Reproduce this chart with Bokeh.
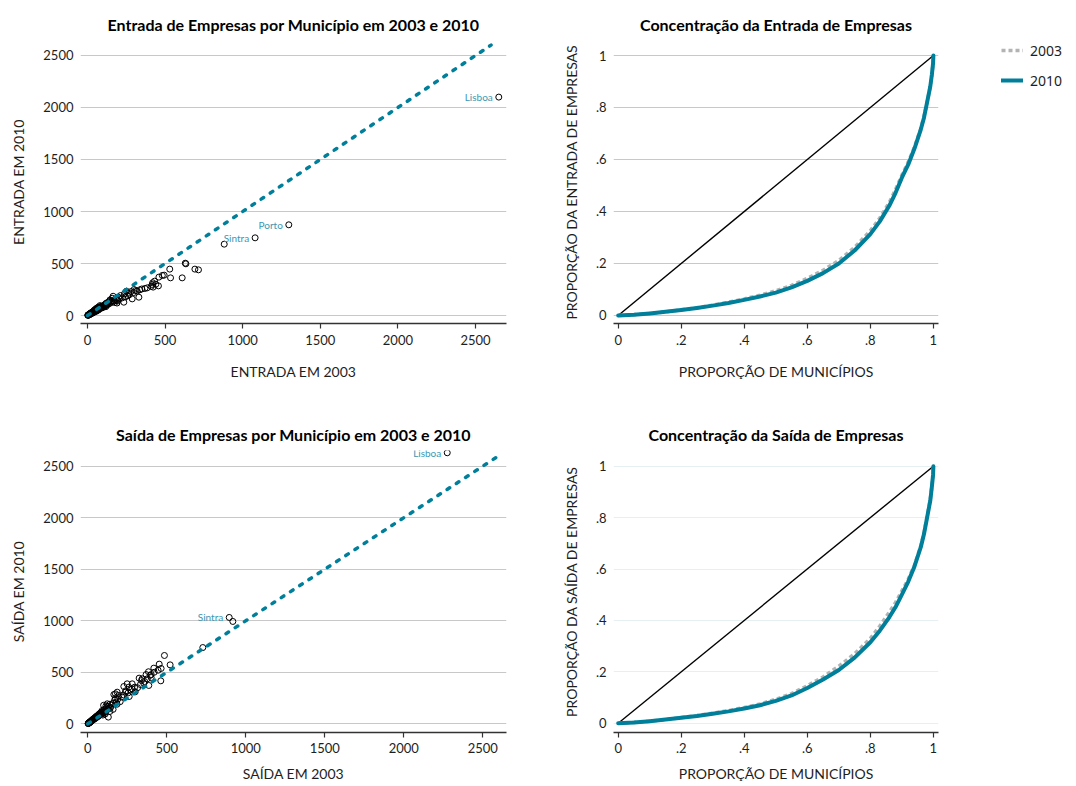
from bokeh.plotting import figure
from bokeh.layouts import row, column
from bokeh.models import ColumnDataSource, FixedTicker, Legend, LegendItem, Range1d
from bokeh.core.properties import value
from bokeh.embed import file_html
from bokeh.resources import INLINE

# ---------------------------------------------------------------------------
# Data: firm entries / exits per municipality (2003 vs 2010)
# ---------------------------------------------------------------------------
entry_2003 = [2650, 1297, 1080, 881, 634, 630, 692, 715, 610, 530, 535, 494, 482,
              460, 457, 432, 417, 423, 385, 370, 337, 331, 298, 288, 310, 280, 265,
              251, 238, 245, 213, 234, 225, 200, 190, 180, 172, 165, 159, 152, 148,
              140, 135, 130, 126, 120, 116, 112, 108, 104, 100, 97, 94, 90, 87, 84,
              80, 78, 75, 72, 70, 67, 65, 62, 60, 58, 55, 52, 50, 48, 46, 44, 42, 40,
              38, 36, 34, 32, 30, 28, 27, 25, 24, 22, 21, 20, 18, 17, 16, 15, 14, 13,
              12, 11, 10, 9, 8, 7, 6, 5, 4, 3, 2, 195, 205, 260, 270, 300, 320, 350,
              410, 440, 420, 190, 175, 160, 145, 128, 118, 110, 98, 85, 70, 66, 56,
              45, 39, 33, 26, 19, 12]
entry_2010 = [2100, 872, 747, 686, 497, 503, 446, 439, 362, 446, 362, 388, 385,
              369, 285, 330, 298, 273, 266, 260, 247, 176, 221, 160, 240, 230, 215,
              234, 208, 180, 192, 128, 170, 175, 150, 160, 140, 185, 166, 130, 120,
              135, 110, 125, 100, 118, 95, 105, 88, 98, 80, 90, 75, 85, 70, 78,
              95, 65, 70, 60, 80, 55, 62, 50, 72, 48, 52, 42, 60, 40, 45, 36, 48, 33,
              40, 30, 35, 27, 32, 24, 29, 21, 26, 19, 22, 17, 19, 14, 16, 12, 14, 11,
              12, 9, 10, 8, 9, 6, 6, 4, 5, 3, 2, 140, 160, 190, 200, 250, 235, 255,
              280, 300, 315, 120, 125, 140, 150, 112, 85, 92, 78, 88, 52, 74, 40,
              50, 28, 30, 18, 21, 7]

exit_2003 = [2275, 895, 918, 728, 485, 521, 452, 464, 418, 462, 384, 369, 401,
             376, 325, 354, 333, 386, 296, 249, 228, 262, 186, 165, 344, 401, 281,
             260, 239, 196, 175, 123, 150, 145, 140, 135, 130, 128, 125, 120, 118,
             115, 110, 105, 102, 100, 98, 95, 92, 90, 88, 85, 82, 80, 78, 75, 72, 70,
             68, 65, 62, 60, 58, 55, 52, 50, 48, 46, 44, 42, 40, 38, 36, 34, 32, 30,
             28, 26, 24, 22, 20, 19, 17, 16, 14, 13, 12, 10, 9, 8, 7, 6, 5, 4, 3, 2,
             160, 170, 175, 180, 190, 205, 215, 225, 240, 255, 270, 280, 300, 315,
             340, 360, 395, 420, 445, 160, 185, 140, 110, 95]
exit_2010 = [2630, 1032, 993, 740, 663, 572, 579, 537, 540, 417, 505, 478, 449,
             436, 443, 394, 381, 372, 355, 388, 362, 265, 307, 284, 437, 478, 388,
             355, 307, 275, 291, 194, 180, 160, 190, 150, 65, 170, 140, 155, 130,
             175, 125, 140, 110, 180, 120, 105, 130, 100, 115, 95, 110, 88, 100, 85,
             95, 78, 88, 72, 80, 68, 75, 62, 70, 56, 62, 52, 58, 48, 52, 44, 48, 40,
             42, 35, 38, 31, 32, 26, 27, 22, 21, 18, 18, 15, 14, 12, 11, 9, 9, 7, 6,
             5, 4, 2, 200, 230, 250, 210, 240, 215, 260, 280, 320, 300, 330, 340,
             310, 350, 420, 410, 470, 500, 520, 140, 190, 120, 95, 85]

# Highlighted municipalities (index into the arrays above)
entry_named = {"Lisboa": 0, "Porto": 1, "Sintra": 2}
exit_named = {"Lisboa": 0, "Sintra": 1}

# 45-degree reference line for the scatter panels
diag = [0, 2600]

# Lorenz curves: cumulative share of municipalities vs cumulative share of firms
lor_x = [0, 0.05, 0.1, 0.15, 0.2, 0.25, 0.3, 0.35, 0.4, 0.45, 0.5, 0.55, 0.6,
         0.65, 0.7, 0.75, 0.8, 0.83, 0.86, 0.88, 0.9, 0.92, 0.94, 0.96, 0.97,
         0.98, 0.99, 0.995, 0.999, 1.0]
entry_lor_2003 = [0, 0.003, 0.008, 0.014, 0.022, 0.030, 0.040, 0.051, 0.064,
                  0.078, 0.095, 0.116, 0.143, 0.174, 0.212, 0.262, 0.326, 0.375,
                  0.435, 0.485, 0.540, 0.590, 0.648, 0.720, 0.765, 0.820, 0.880,
                  0.925, 0.970, 1.0]
entry_lor_2010 = [0, 0.003, 0.008, 0.014, 0.021, 0.029, 0.038, 0.048, 0.060,
                  0.073, 0.088, 0.108, 0.133, 0.163, 0.200, 0.250, 0.313, 0.362,
                  0.422, 0.472, 0.530, 0.580, 0.642, 0.715, 0.760, 0.820, 0.880,
                  0.925, 0.970, 1.0]
exit_lor_2003 = [0, 0.003, 0.008, 0.014, 0.022, 0.030, 0.039, 0.049, 0.061,
                 0.075, 0.093, 0.115, 0.146, 0.180, 0.222, 0.270, 0.330, 0.378,
                 0.432, 0.470, 0.515, 0.560, 0.615, 0.690, 0.740, 0.805, 0.870,
                 0.920, 0.968, 1.0]
exit_lor_2010 = [0, 0.003, 0.008, 0.014, 0.021, 0.028, 0.037, 0.046, 0.057,
                 0.070, 0.087, 0.108, 0.137, 0.170, 0.207, 0.255, 0.315, 0.360,
                 0.412, 0.452, 0.500, 0.550, 0.610, 0.685, 0.735, 0.800, 0.865,
                 0.918, 0.967, 1.0]
equality = [0, 1]

scatter_ticks = [0, 500, 1000, 1500, 2000, 2500]
share_ticks = [0, 0.2, 0.4, 0.6, 0.8, 1.0]
share_labels = {0: "0", 0.2: ".2", 0.4: ".4", 0.6: ".6", 0.8: ".8", 1.0: "1"}
years = ["2003", "2010"]

# ---------------------------------------------------------------------------
# Styling
# ---------------------------------------------------------------------------
TEAL = "#007f9b"
TEAL_TEXT = "#3b97b3"
GREY_LINE = "#b3b3b3"
FONT = "Lato"
INK = "#1e1e1e"
STYLE_03 = dict(line_color=GREY_LINE, line_width=3.5, line_dash="4 3")
STYLE_10 = dict(line_color=TEAL, line_width=4, line_join="round", line_cap="round")


def style_axes(p, ticks, overrides=None, grid_color="#c8c8c8", compact=False):
    p.outline_line_color = None
    p.background_fill_color = "white"
    p.border_fill_color = "white"
    p.xgrid.visible = False
    p.ygrid.grid_line_color = grid_color
    p.ygrid.grid_line_width = 1
    for ax in (p.xaxis[0], p.yaxis[0]):
        ax.ticker = FixedTicker(ticks=ticks)
        ax.minor_tick_line_color = None
        ax.major_label_text_font = FONT
        ax.major_label_text_font_size = "13px"
        ax.major_label_text_color = INK
        ax.axis_label_text_font = FONT
        ax.axis_label_text_font_size = "14px"
        ax.axis_label_text_font_style = "normal"
        ax.axis_label_text_color = INK
        if overrides:
            ax.major_label_overrides = overrides
    p.xaxis.axis_line_color = "#333333"
    p.xaxis.axis_line_width = 1.5
    p.xaxis.major_tick_line_color = "#333333"
    p.xaxis.major_tick_line_width = 1.2
    p.xaxis.major_tick_in = 0
    p.xaxis.major_tick_out = 5
    # the lower row has less room below its axis
    p.xaxis.major_label_standoff = 5 if compact else 6
    p.xaxis.axis_label_standoff = 9 if compact else 15
    p.yaxis.axis_line_color = None
    p.yaxis.major_tick_line_color = None
    p.yaxis.major_tick_in = 0
    p.yaxis.major_tick_out = 0
    p.yaxis.major_label_standoff = 7
    p.yaxis.axis_label_standoff = 13
    p.title.text_font = FONT
    p.title.text_font_size = "16px"
    p.title.text_font_style = "bold"
    p.title.text_color = "black"
    p.title.align = "center"
    p.title.standoff = 14


def scatter_panel(title, xs, ys, named, xlab, ylab, xr, yr, height, top, bottom,
                  compact=False):
    p = figure(width=540, height=height, x_range=Range1d(*xr), y_range=Range1d(*yr),
               output_backend="svg", toolbar_location=None, title=title,
               min_border_left=80, min_border_right=34,
               min_border_top=top, min_border_bottom=bottom)
    style_axes(p, scatter_ticks, compact=compact)
    p.xaxis.axis_label = xlab
    p.yaxis.axis_label = ylab
    p.scatter(x=xs, y=ys, size=6, marker="circle", fill_color=None,
              line_color="black", line_width=1)
    p.line(x=diag, y=diag, line_color=TEAL, line_width=3.5,
           line_dash="3 8", line_cap="round")
    src = ColumnDataSource(dict(x=[xs[i] for i in named.values()],
                                y=[ys[i] for i in named.values()],
                                name=list(named.keys())))
    p.text(x="x", y="y", text="name", source=src, x_offset=-6,
           text_align="right", text_baseline="middle",
           text_font=value(FONT), text_font_size="10px", text_color=TEAL_TEXT)
    return p


def lorenz_panel(title, y03, y10, ylab, yr, height, top, bottom, grid_color,
                 compact=False):
    p = figure(width=450, height=height, x_range=Range1d(-0.0149, 1.0162),
               y_range=Range1d(*yr), output_backend="svg", toolbar_location=None,
               title=title, min_border_left=73, min_border_right=52,
               min_border_top=top, min_border_bottom=bottom)
    style_axes(p, share_ticks, share_labels, grid_color, compact=compact)
    p.xaxis.axis_label = "PROPORÇÃO DE MUNICÍPIOS"
    p.yaxis.axis_label = ylab
    p.line(x=equality, y=equality, line_color="black", line_width=1.4)
    p.line(x=lor_x, y=y03, **STYLE_03)
    p.line(x=lor_x, y=y10, **STYLE_10)
    return p


p1 = scatter_panel("Entrada de Empresas por Município em 2003 e 2010",
                   entry_2003, entry_2010, entry_named,
                   "ENTRADA EM 2003", "ENTRADA EM 2010",
                   (-45.1, 2699.7), (-76.9, 2644.2), 395, 40, 72)
p3 = scatter_panel("Saída de Empresas por Município em 2003 e 2010",
                   exit_2003, exit_2010, exit_named,
                   "SAÍDA EM 2003", "SAÍDA EM 2010",
                   (-46.2, 2650.0), (-84.4, 2652.0), 391, 55, 54, compact=True)

p2 = lorenz_panel("Concentração da Entrada de Empresas",
                  entry_lor_2003, entry_lor_2010,
                  "PROPORÇÃO DA ENTRADA DE EMPRESAS",
                  (-0.0308, 1.0577), 395, 40, 72, "#c8c8c8")
p4 = lorenz_panel("Concentração da Saída de Empresas",
                  exit_lor_2003, exit_lor_2010,
                  "PROPORÇÃO DA SAÍDA DE EMPRESAS",
                  (-0.0362, 1.0611), 391, 55, 54, "#e6f0f2", compact=True)

# Shared legend in its own narrow strip; its curves lie outside the visible range,
# so only the legend swatches show.
leg = figure(width=86, height=395, x_range=Range1d(10, 11), y_range=Range1d(10, 11),
             output_backend="svg", toolbar_location=None,
             x_axis_location=None, y_axis_location=None,
             min_border_left=0, min_border_right=0, min_border_top=0,
             min_border_bottom=0)
leg.outline_line_color = None
leg.grid.visible = False
l03 = leg.line(x=lor_x, y=entry_lor_2003, **STYLE_03)
l10 = leg.line(x=lor_x, y=entry_lor_2010, **STYLE_10)
legend = Legend(items=[LegendItem(label=years[0], renderers=[l03]),
                       LegendItem(label=years[1], renderers=[l10])],
                location=(11, 305), orientation="vertical",
                border_line_color=None, background_fill_alpha=0,
                padding=0, margin=0, spacing=10,
                glyph_width=22, glyph_height=20, label_height=20,
                label_standoff=7, label_text_font="Noto Sans",
                label_text_font_size="14px", label_text_color=INK)
leg.add_layout(legend, "center")

layout = row(column(p1, p3), column(p2, p4), leg)

with open("out.html", "w") as f:
    f.write(file_html(layout, INLINE, title="Entrada e Saída de Empresas"))
